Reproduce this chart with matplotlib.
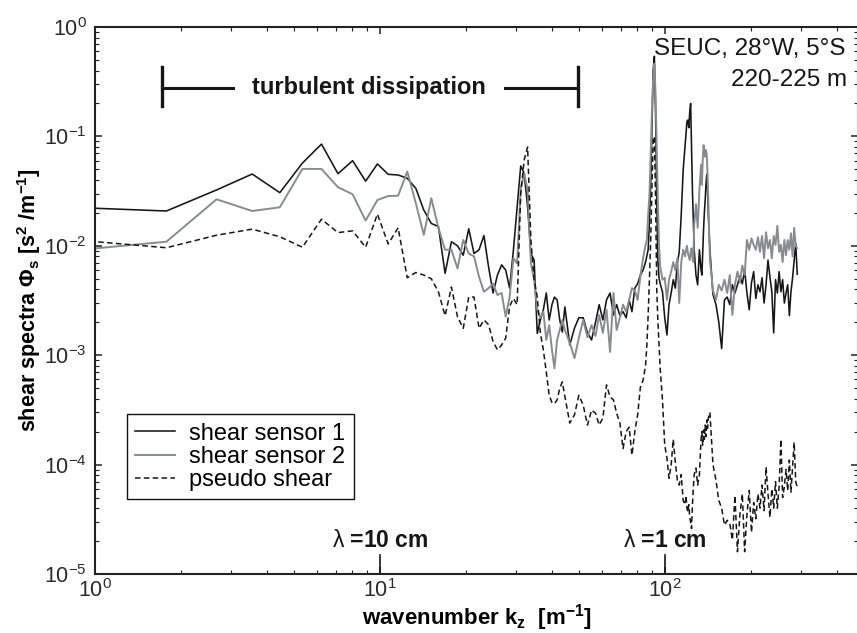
"""Shear spectra from two shear sensors and pseudo shear, SEUC 28W 5S."""

import matplotlib

matplotlib.use("Agg")
import matplotlib.pyplot as plt

plt.rcParams["font.family"] = ["Liberation Sans", "DejaVu Sans"]
plt.rcParams["mathtext.fontset"] = "custom"
plt.rcParams["mathtext.rm"] = "Liberation Sans"
plt.rcParams["mathtext.bf"] = "Liberation Sans:bold"
plt.rcParams["mathtext.it"] = "Liberation Sans:italic"

# wavenumber k_z [1/m]
wavenumber = [
    0.89, 1.78, 2.67, 3.56, 4.45, 5.34, 6.23, 7.12, 8.01, 8.9,
    9.79, 10.68, 11.57, 12.46, 13.35, 14.24, 15.13, 16.02, 16.91, 17.8,
    18.69, 19.58, 20.47, 21.36, 22.25, 23.14, 24.03, 24.92, 25.81, 26.7,
    27.59, 28.48, 29.37, 30.26, 31.15, 32.04, 32.93, 33.82, 34.71, 35.6,
    36.5, 37.4, 38.3, 39.2, 40.1, 40.9, 41.8, 42.7, 43.6, 44.5,
    46.3, 48.1, 49.8, 51.6, 53.4, 55.2, 57.0, 58.7, 60.5, 62.3,
    64.1, 65.9, 67.6, 69.4, 71.2, 73.0, 74.8, 76.5, 78.3, 80.1,
    81.9, 83.7, 85.4, 86.3, 87.2, 88.1, 89.0, 89.9, 90.8, 91.7,
    92.6, 93.5, 94.3, 95.2, 96.1, 97.9, 99.7, 101.5, 103.2, 105.0,
    106.8, 108.6, 110.4, 112.1, 113.9, 115.7, 117.5, 118.4, 119.3, 120.2,
    121.1, 122.0, 122.9, 123.8, 124.7, 125.6, 126.5, 128.3, 130.1, 131.9,
    133.7, 134.6, 135.5, 136.4, 137.3, 138.2, 139.1, 140.0, 140.9, 141.8,
    143.6, 147.2, 150.8, 154.3, 157.9, 161.5, 165.1, 168.6, 172.2, 175.8,
    179.4, 183.0, 186.6, 190.1, 193.7, 197.3, 200.9, 204.5, 208.1, 211.7,
    215.2, 218.8, 222.4, 226.0, 229.6, 233.2, 236.8, 240.4, 244.0, 247.6,
    251.2, 254.8, 258.4, 262.0, 265.6, 269.2, 272.8, 276.4, 280.0, 283.6,
    287.2, 290.8,
]

# shear spectra [s^2 / m^-1]
shear_sensor_1 = [
    0.0223, 0.0208, 0.0324, 0.0453, 0.0306, 0.057, 0.085, 0.0456, 0.060, 0.039,
    0.056, 0.045, 0.0444, 0.0414, 0.0335, 0.0212, 0.016, 0.015, 0.0056, 0.0109,
    0.0100, 0.0082, 0.0143, 0.0085, 0.0092, 0.0124, 0.0064, 0.0037, 0.0054, 0.0067,
    0.0060, 0.0041, 0.0092, 0.0228, 0.0537, 0.046, 0.0228, 0.0085, 0.0074, 0.00158,
    2.1e-3, 2.6e-3, 3.7e-3, 2.1e-3, 2.9e-3, 3.4e-3, 3.2e-3, 2.1e-3, 1.63e-3, 2.76e-3,
    1.24e-3, 1.77e-3, 2.2e-3, 2.2e-3, 1.6e-3, 1.38e-3, 2.0e-3, 2.9e-3, 2.1e-3, 3.2e-3,
    3.7e-3, 2.33e-3, 2.9e-3, 2.3e-3, 2.5e-3, 2.2e-3, 3.2e-3, 2.5e-3, 4.1e-3, 4.5e-3,
    5.4e-3, 6.0e-3, 7.1e-3, 8.1e-3, 9.2e-3, 1.65e-2, 3.6e-2, 0.114, 0.40, 0.54,
    0.157, 2.6e-2, 7.4e-3, 5.1e-3, 4.5e-3, 3.8e-3, 2.2e-3, 1.53e-3, 2.9e-3, 3.7e-3,
    4.9e-3, 4.1e-3, 7.0e-3, 8.8e-3, 1.91e-2, 4.9e-2, 8.3e-2, 0.108, 0.137, 0.141,
    0.12, 0.167, 0.2, 8.3e-2, 3.2e-2, 1.72e-2, 9.2e-3, 5.4e-3, 4.4e-3, 9.2e-3,
    6.0e-3, 5.4e-3, 8.8e-3, 1.39e-2, 2.0e-2, 2.6e-2, 3.6e-2, 4.5e-2, 3.2e-2, 1.9e-2,
    9.2e-3, 3.6e-3, 2.9e-3, 2.0e-3, 1.15e-3, 3.2e-3, 3.4e-3, 2.9e-3, 4.4e-3, 3.7e-3,
    4.4e-3, 5.3e-3, 4.5e-3, 6.0e-3, 3.7e-3, 2.6e-3, 4.6e-3, 5.8e-3, 3.3e-3, 4.4e-3,
    3.8e-3, 5.1e-3, 3.0e-3, 4.4e-3, 7.4e-3, 5.2e-3, 3.8e-3, 1.6e-3, 4.9e-3, 3.7e-3,
    5.8e-3, 3.8e-3, 4.9e-3, 3.0e-3, 3.7e-3, 4.4e-3, 2.3e-3, 3.8e-3, 5.1e-3, 7.4e-3,
    1.05e-2, 5.5e-3,
]

shear_sensor_2 = [
    0.0092, 0.0109, 0.0266, 0.0208, 0.0225, 0.0504, 0.0504, 0.0343, 0.0296, 0.0170,
    0.0262, 0.0285, 0.0287, 0.0477, 0.0245, 0.0126, 0.0272, 0.0146, 0.0092, 0.0092,
    0.0062, 0.0113, 0.0085, 0.0080, 0.0052, 0.0038, 0.0041, 0.0045, 0.00355, 0.0037,
    0.00225, 0.0034, 0.0077, 0.0069, 0.0335, 0.046, 0.0324, 0.0069, 0.0049, 0.0026,
    2.2e-3, 2.5e-3, 1.38e-3, 1.88e-3, 1.12e-3, 7.6e-4, 1.38e-3, 1.7e-3, 2.1e-3, 1.7e-3,
    1.3e-3, 9.4e-4, 1.43e-3, 2.1e-3, 1.46e-3, 1.88e-3, 1.5e-3, 2.33e-3, 1.6e-3, 2.6e-3,
    1.07e-3, 3.7e-3, 1.7e-3, 2.2e-3, 2.9e-3, 2.5e-3, 3.2e-3, 4.1e-3, 3.9e-3, 3.2e-3,
    5.3e-3, 7.7e-3, 1.02e-2, 1.13e-2, 1.9e-2, 2.9e-2, 6.8e-2, 0.174, 0.33, 0.46,
    0.24, 7.5e-2, 2.6e-2, 1.02e-2, 6.5e-3, 4.9e-3, 5.1e-3, 3.2e-3, 4.9e-3, 5.8e-3,
    7.1e-3, 6.0e-3, 7.7e-3, 3.0e-3, 7.0e-3, 9.2e-3, 8.0e-3, 9.2e-3, 1.0e-2, 8.6e-3,
    8.0e-3, 7.4e-3, 8.8e-3, 9.5e-3, 7.7e-3, 7.1e-3, 1.55e-2, 2.4e-2, 1.46e-2, 3.2e-2,
    5.5e-2, 3.6e-2, 6.1e-2, 8.3e-2, 7.5e-2, 6.5e-2, 7.5e-2, 6.8e-2, 4.5e-2, 2.6e-2,
    7.4e-3, 3.9e-3, 3.2e-3, 4.4e-3, 3.9e-3, 4.9e-3, 3.7e-3, 5.4e-3, 2.33e-3, 4.4e-3,
    5.8e-3, 4.6e-3, 6.6e-3, 5.4e-3, 1.13e-2, 9.2e-3, 1.17e-2, 1.02e-2, 9.2e-3, 1.2e-2,
    8.8e-3, 1.23e-2, 7.7e-3, 1.33e-2, 9.5e-3, 1.13e-2, 7.7e-3, 1.23e-2, 1.02e-2, 1.52e-2,
    8.8e-3, 1.02e-2, 7.1e-3, 1.13e-2, 8.2e-3, 1.13e-2, 9.2e-3, 1.3e-2, 8.0e-3, 1.46e-2,
    1.0e-2, 9.5e-3,
]

pseudo_shear = [
    0.0112, 0.0096, 0.0125, 0.0142, 0.0121, 0.0097, 0.0175, 0.0132, 0.0137, 0.0097,
    0.0195, 0.0104, 0.0146, 0.0051, 0.0057, 0.0054, 0.0050, 0.0038, 0.0023, 0.0042,
    0.00225, 0.00176, 0.0034, 0.0034, 0.00176, 0.0021, 0.0019, 0.00133, 0.00112, 0.00124,
    0.00143, 0.0028, 0.0033, 0.0029, 0.030, 0.061, 0.080, 0.0113, 0.0049, 0.0034,
    1.6e-3, 1.12e-3, 7.0e-4, 4.3e-4, 3.7e-4, 3.6e-4, 3.9e-4, 5.0e-4, 5.7e-4, 4.2e-4,
    2.4e-4, 2.85e-4, 4.3e-4, 3.5e-4, 2.3e-4, 3.15e-4, 2.95e-4, 2.3e-4, 2.67e-4, 5.35e-4,
    4.15e-4, 3.9e-4, 2.95e-4, 2.4e-4, 1.4e-4, 2.0e-4, 2.2e-4, 1.22e-4, 2.0e-4, 2.85e-4,
    5.1e-4, 5.9e-4, 8.1e-4, 1.24e-3, 2.33e-3, 4.9e-3, 1.13e-2, 3.2e-2, 9.3e-2, 0.10,
    2.6e-2, 3.9e-3, 2.1e-3, 1.24e-3, 7.6e-4, 3.9e-4, 1.5e-4, 1.15e-4, 7.5e-5, 9.9e-5,
    1.7e-4, 1.05e-4, 7.2e-5, 6.5e-5, 8.1e-5, 4.7e-5, 4.3e-5, 5.2e-5, 4.0e-5, 3.7e-5,
    4.3e-5, 3.3e-5, 3.0e-5, 2.6e-5, 4.3e-5, 6.1e-5, 8.1e-5, 9.3e-5, 6.5e-5, 8.1e-5,
    1.7e-4, 2.0e-4, 1.5e-4, 2.07e-4, 1.7e-4, 2.3e-4, 1.8e-4, 2.56e-4, 2.15e-4, 2.67e-4,
    3.0e-4, 1.0e-4, 7.2e-5, 4.7e-5, 4.0e-5, 2.8e-5, 3.1e-5, 2.9e-5, 2.05e-5, 5.2e-5,
    1.6e-5, 3.5e-5, 5.4e-5, 1.6e-5, 3.5e-5, 5.8e-5, 2.4e-5, 4.5e-5, 3.2e-5, 5.4e-5,
    4.0e-5, 6.5e-5, 3.8e-5, 9.5e-5, 5.4e-5, 3.3e-5, 6.0e-5, 4.0e-5, 7.0e-5, 4.0e-5,
    6.3e-5, 1.7e-4, 5.0e-5, 6.3e-5, 9.0e-5, 5.8e-5, 1.1e-4, 5.6e-5, 9.5e-5, 1.6e-4,
    7.0e-5, 6.2e-5,
]

series_labels = ["shear sensor 1", "shear sensor 2", "pseudo shear"]

# turbulent dissipation wavenumber band and its bracket
dissipation_band = [1.72, 49.5]
dissipation_gap = [3.05, 27.5]
bracket_level = 0.277
bracket_bar = [0.19, 0.43]

# wavelength markers
lambda_k = [10, 100]
lambda_text = ["10 cm", "1 cm"]

site_lines = ["SEUC, 28°W, 5°S", "220-225 m"]

ink = "#161616"
gray = "#878c91"

fig = plt.figure(figsize=(8.57, 6.33), dpi=100)
ax = fig.add_axes([95 / 857, 59 / 633, 763 / 857, 547 / 633])

ax.plot(wavenumber, shear_sensor_1, color=ink, lw=1.15, label=series_labels[0])
ax.plot(wavenumber, shear_sensor_2, color=gray, lw=1.4, label=series_labels[1])
ax.plot(wavenumber, pseudo_shear, color=ink, lw=1.1, dashes=(3.6, 2.2),
        label=series_labels[2])

ax.set_xscale("log")
ax.set_yscale("log")
ax.set_xlim(1, 475)
ax.set_ylim(1e-5, 1)

for side in ax.spines.values():
    side.set_linewidth(1.5)
    side.set_color("#222222")
ax.tick_params(which="both", direction="in", top=True, right=True,
               colors="#222222", labelcolor="#2a2a2a", labelsize=15.5, pad=6)
ax.tick_params(axis="x", pad=4)
ax.tick_params(which="major", length=5, width=1.1)
ax.tick_params(which="minor", length=3, width=0.8)

ax.set_xlabel(r"wavenumber k$_\mathdefault{z}$  [m$^\mathdefault{-1}$]",
              fontsize=16, fontweight="bold")
ax.xaxis.set_label_coords(0.5, -0.0515)
ax.set_ylabel(r"shear spectra Φ$_\mathdefault{s}$ [s$^\mathdefault{2}$ /m$^\mathdefault{-1}$]",
              fontsize=15.5, fontweight="bold")
ax.yaxis.set_label_coords(-0.068, 0.5)

# dissipation bracket
lo, hi = dissipation_band
ax.plot([lo, dissipation_gap[0]], [bracket_level] * 2, color=ink, lw=2.2)
ax.plot([dissipation_gap[1], hi], [bracket_level] * 2, color=ink, lw=2.2)
ax.plot([lo, lo], bracket_bar, color=ink, lw=2.4)
ax.plot([hi, hi], bracket_bar, color=ink, lw=2.4)
ax.text(9.15, bracket_level, "turbulent dissipation", ha="center", va="center",
        fontsize=17, fontweight="bold", color=ink)

# wavelength markers on the bottom axis
xt = ax.get_xaxis_transform()
for k, txt in zip(lambda_k, lambda_text):
    ax.axvline(k, ymin=0, ymax=0.035, color=ink, lw=1.2)
    ax.text(k, 0.062, r"$\mathrm{\lambda}$ =" + txt, transform=xt, ha="center",
            va="center", fontsize=16.5, fontweight="bold", color=ink)

ax.text(0.984, 0.96, site_lines[0], transform=ax.transAxes, ha="right",
        va="center", fontsize=17.5, color=ink)
ax.text(0.986, 0.903, site_lines[1], transform=ax.transAxes, ha="right",
        va="center", fontsize=17.5, color=ink)

leg = ax.legend(loc="lower left", bbox_to_anchor=(0.0415, 0.1366),
                borderaxespad=0, fancybox=False, framealpha=1, edgecolor="#111111",
                fontsize=17, handlelength=1.7, handletextpad=0.6,
                labelspacing=0.05, borderpad=0.35)
leg.get_frame().set_linewidth(1.0)

fig.savefig("out.png", dpi=100)
